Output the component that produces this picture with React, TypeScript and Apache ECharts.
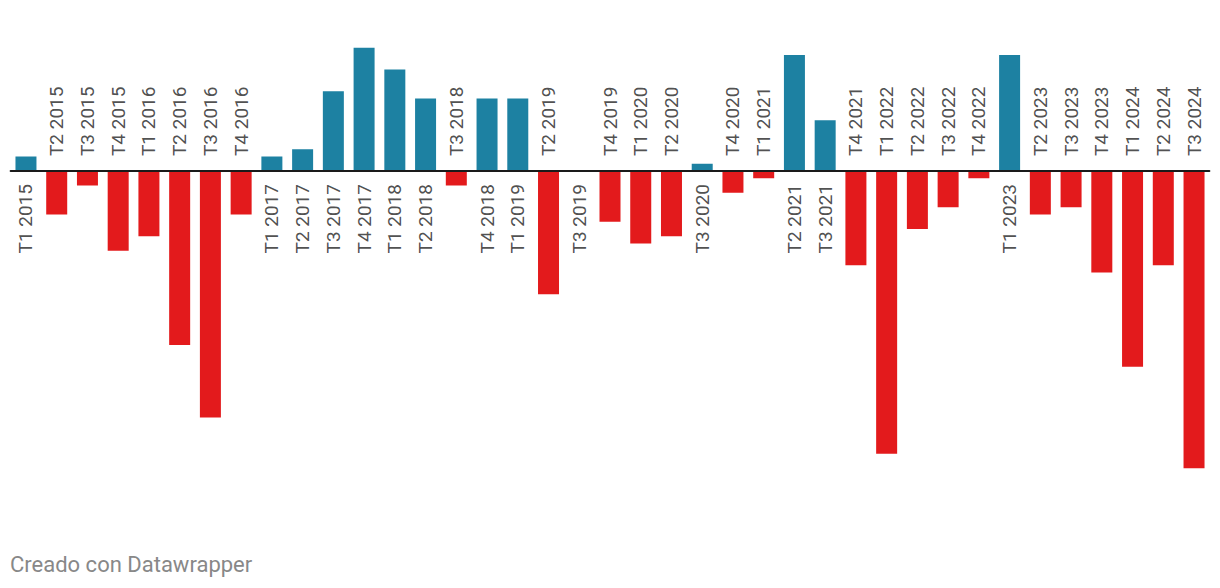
import React, { useEffect, useRef } from "react";
import * as echarts from "echarts";

const categories = [
  "T1 2015", "T2 2015", "T3 2015", "T4 2015",
  "T1 2016", "T2 2016", "T3 2016", "T4 2016",
  "T1 2017", "T2 2017", "T3 2017", "T4 2017",
  "T1 2018", "T2 2018", "T3 2018", "T4 2018",
  "T1 2019", "T2 2019", "T3 2019", "T4 2019",
  "T1 2020", "T2 2020", "T3 2020", "T4 2020",
  "T1 2021", "T2 2021", "T3 2021", "T4 2021",
  "T1 2022", "T2 2022", "T3 2022", "T4 2022",
  "T1 2023", "T2 2023", "T3 2023", "T4 2023",
  "T1 2024", "T2 2024", "T3 2024",
];

const values = [
  2, -6, -2, -11,
  -9, -24, -34, -6,
  2, 3, 11, 17,
  14, 10, -2, 10,
  10, -17, 0, -7,
  -10, -9, 1, -3,
  -1, 16, 7, -13,
  -39, -8, -5, -1,
  16, -6, -5, -14,
  -27, -13, -41,
];

const footer = "Creado con Datawrapper";

const BLUE = "#1d81a2";
const RED = "#e31a1c";

export default function App() {
  const ref = useRef<HTMLDivElement>(null);
  useEffect(() => {
    if (!ref.current) return;
    const chart = echarts.init(ref.current, null, { renderer: "svg" });
    const labelData = values.map((v, i) => {
      const above = v < 0;
      return {
        value: [i, 0],
        label: {
          show: true,
          formatter: categories[i],
          position: above ? "top" : "bottom",
          distance: above ? 15 : 13,
          rotate: 90,
          align: above ? "left" : "right",
          verticalAlign: "middle",
          color: "#222",
          fontSize: 19,
          fontFamily: "Roboto",
        },
      };
    });
    chart.setOption({
      animation: false,
      backgroundColor: "#ffffff",
      grid: { left: 10.6, right: 10.6, top: 26, height: 471.25, containLabel: false },
      xAxis: {
        type: "category",
        data: categories,
        axisLine: { show: true, onZero: true, lineStyle: { color: "#1a1a1a", width: 2 } },
        axisTick: { show: false },
        axisLabel: { show: false },
        splitLine: { show: false },
        z: 10,
      },
      yAxis: {
        type: "value",
        min: -45,
        max: 20,
        show: false,
        splitLine: { show: false },
      },
      series: [
        {
          type: "bar",
          barWidth: 21,
          data: values.map((v) => ({
            value: v,
            itemStyle: { color: v >= 0 ? BLUE : RED },
          })),
          z: 2,
        },
        {
          type: "scatter",
          symbolSize: 0,
          data: labelData,
          silent: true,
          z: 3,
        },
      ],
      graphic: [
        {
          type: "text",
          left: 10,
          top: 553,
          style: {
            text: footer,
            fill: "#888888",
            fontSize: 22,
            fontFamily: "Roboto",
          },
        },
      ],
    });
    return () => chart.dispose();
  }, []);
  return (
    <div
      ref={ref}
      style={{ position: "fixed", left: 0, top: 0, width: 1220, height: 588, background: "#fff" }}
    />
  );
}
